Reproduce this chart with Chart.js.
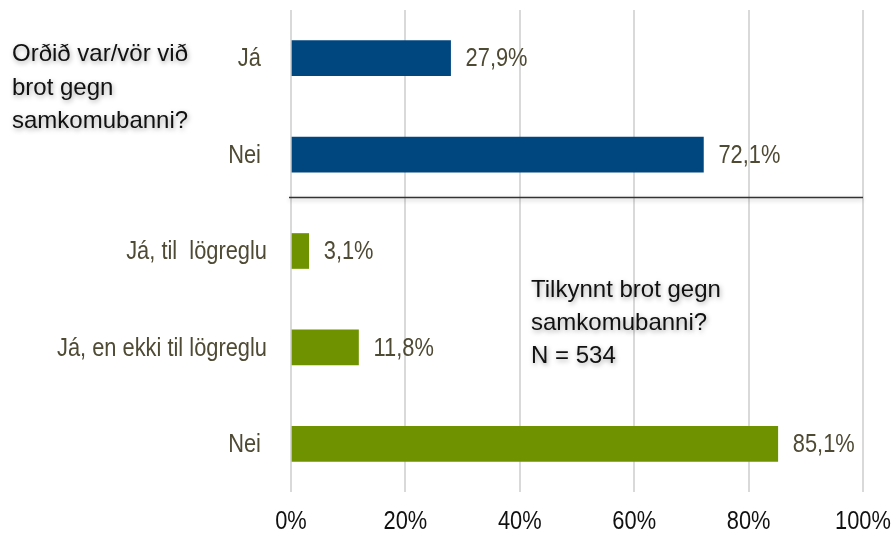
<!DOCTYPE html>
<html>
<head>
<meta charset="utf-8">
<script src="https://cdn.jsdelivr.net/npm/chart.js@4.4.0/dist/chart.umd.min.js"></script>
<style>
  html, body { margin: 0; padding: 0; background: #fff; }
  #wrap { width: 895px; height: 541px; position: relative; }
</style>
</head>
<body>
<div id="wrap"><canvas id="chart"></canvas></div>
<script>
const categories = ['Já ', 'Nei ', 'Já, til  lögreglu', 'Já, en ekki til lögreglu', 'Nei '];
const values = [27.9, 72.1, 3.1, 11.8, 85.1];
const barColors = ['#00467f', '#00467f', '#6f9300', '#6f9300', '#6f9300'];
const xTicks = [0, 20, 40, 60, 80, 100];
const noteTop = ['Orðið var/vör við', 'brot gegn', 'samkomubanni?'];
const noteBottom = ['Tilkynnt brot gegn', 'samkomubanni?', 'N = 534'];

const FONT = "'Liberation Sans', Arial, sans-serif";
const labelColor = '#4f4a34';
const SQUEEZE = 0.84; // the original uses a narrow face, so squeeze the text a bit

function narrowText(ctx, text, x, y, align) {
  ctx.save();
  ctx.translate(x, y);
  ctx.scale(SQUEEZE, 1);
  ctx.textAlign = align;
  ctx.fillText(text, 0, 0);
  ctx.restore();
}

// tick labels, value labels, separator line and the two text notes
const extras = {
  id: 'extras',
  afterDatasetsDraw(chart) {
    const ctx = chart.ctx;
    const meta = chart.getDatasetMeta(0);
    const area = chart.chartArea;
    const xs = chart.scales.x;
    const ys = chart.scales.y;
    ctx.save();
    ctx.font = '26px ' + FONT;
    ctx.textBaseline = 'middle';

    ctx.fillStyle = labelColor;
    meta.data.forEach((bar, i) => {
      narrowText(ctx, values[i].toFixed(1).replace('.', ',') + '%', bar.x + 15, bar.y + 1, 'left');
      narrowText(ctx, categories[i], area.left - 24, ys.getPixelForValue(i) + 1, 'right');
    });

    ctx.fillStyle = '#111';
    xTicks.forEach(v => {
      narrowText(ctx, v + '%', xs.getPixelForValue(v), area.bottom + 30, 'center');
    });

    // line between the two questions
    const y = ys.getPixelForValue(1.445);
    ctx.strokeStyle = '#333';
    ctx.lineWidth = 1.5;
    ctx.shadowColor = 'rgba(0,0,0,0.25)';
    ctx.shadowBlur = 4;
    ctx.shadowOffsetY = 2;
    ctx.beginPath();
    ctx.moveTo(area.left - 2, y);
    ctx.lineTo(area.right, y);
    ctx.stroke();

    ctx.font = '24px ' + FONT;
    ctx.fillStyle = '#111';
    ctx.textAlign = 'left';
    ctx.textBaseline = 'alphabetic';
    ctx.shadowColor = 'rgba(0,0,0,0.35)';
    ctx.shadowBlur = 5;
    ctx.shadowOffsetX = 1;
    ctx.shadowOffsetY = 2;
    noteTop.forEach((t, i) => ctx.fillText(t, 12, 61 + i * 33.5));
    noteBottom.forEach((t, i) => ctx.fillText(t, 531, 297 + i * 33));
    ctx.restore();
  }
};

new Chart(document.getElementById('chart'), {
  type: 'bar',
  data: {
    labels: categories,
    datasets: [{
      data: values,
      backgroundColor: barColors,
      barThickness: 35
    }]
  },
  options: {
    indexAxis: 'y',
    responsive: true,
    maintainAspectRatio: false,
    animation: false,
    layout: { padding: { top: 10, right: 32, left: 0, bottom: 0 } },
    plugins: {
      legend: { display: false },
      tooltip: { enabled: false }
    },
    scales: {
      x: {
        min: 0,
        max: 100,
        afterBuildTicks: (scale) => { scale.ticks = xTicks.map(v => ({ value: v })); },
        afterFit: (scale) => {
          scale.height = 49;
          scale.paddingLeft = 0;
          scale.paddingRight = 0;
        },
        grid: { color: '#d9d9d9', lineWidth: 2, drawTicks: false },
        border: { display: false },
        ticks: { display: false }
      },
      y: {
        afterFit: (scale) => {
          scale.width = 291;
          scale.paddingTop = 0;
          scale.paddingBottom = 0;
        },
        grid: { display: false, drawTicks: false },
        border: { display: false },
        ticks: { display: false }
      }
    }
  },
  plugins: [extras]
});
</script>
</body>
</html>
